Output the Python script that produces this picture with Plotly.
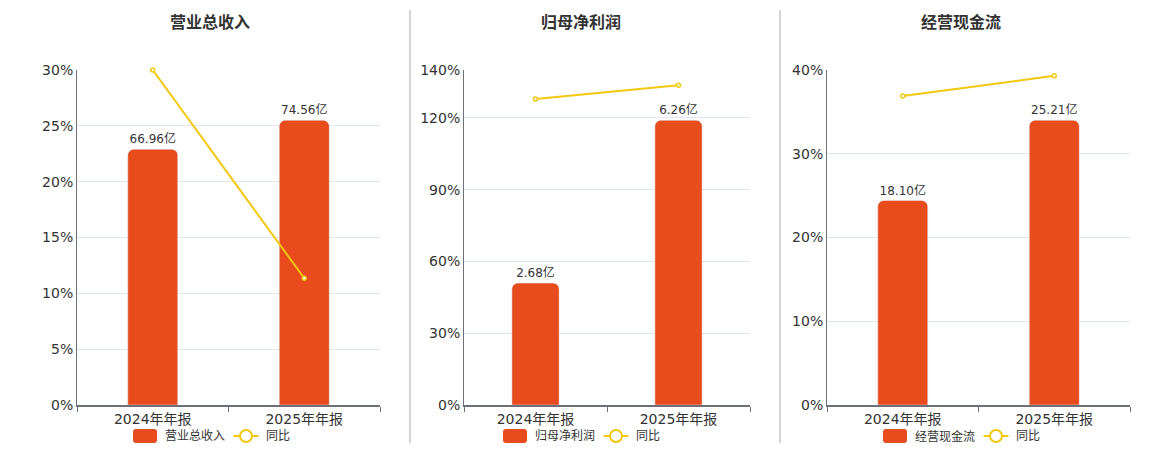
import plotly.graph_objects as go

years = ["2024年年报", "2025年年报"]

titles = ["营业总收入", "归母净利润", "经营现金流"]
revenue = [66.96, 74.56]
revenue_yoy = [30.0, 11.35]
profit = [2.68, 6.26]
profit_yoy = [127.9, 133.6]
cashflow = [18.10, 25.21]
cashflow_yoy = [36.9, 39.3]

bar_color = "#E84B1C"
line_color = "#F2C811"
axis_color = "#6E7079"
grid_color = "#E0E6F1"
text_color = "#333333"
font_family = "DejaVu Sans, Noto Sans CJK SC, sans-serif"

# the page puts the plot div 8px in from the top-left, so work in page pixels
W, H, OFF = 1152, 442, 8


def px_x(p):
    return (p - OFF) / W


def px_y(p):
    return 1 - (p - OFF) / H


panels = [
    (titles[0], revenue, revenue_yoy, [0, 30], [0, 5, 10, 15, 20, 25, 30]),
    (titles[1], profit, profit_yoy, [0, 140], [0, 30, 60, 90, 120, 140]),
    (titles[2], cashflow, cashflow_yoy, [0, 40], [0, 10, 20, 30, 40]),
]
x_px = [(77, 380), (464, 750), (827, 1130)]
title_px = [210, 581, 961]
legend_px = [133, 503, 883]
y_domain = [px_y(405), px_y(70)]

fig = go.Figure()
layout = {}

for i, (name, vals, yoy, pct_range, pct_ticks) in enumerate(panels):
    n = i + 1
    xa = "x" if n == 1 else f"x{n}"
    bar_ax = "y" if n == 1 else f"y{n}"
    line_ax = f"y{n + 3}"

    fig.add_trace(go.Bar(
        x=years, y=vals, name=name,
        marker=dict(color=bar_color),
        texttemplate="%{y:.2f}亿", textposition="outside",
        textfont=dict(size=12, color=text_color),
        cliponaxis=False, showlegend=False,
        xaxis=xa, yaxis=bar_ax,
    ))
    fig.add_trace(go.Scatter(
        x=years, y=yoy, name="同比", mode="lines+markers",
        line=dict(color=line_color, width=2),
        marker=dict(symbol="circle", size=4, color="white",
                    line=dict(color=line_color, width=1.5)),
        cliponaxis=False, showlegend=False,
        xaxis=xa, yaxis=line_ax,
    ))

    layout[f"xaxis{'' if n == 1 else n}"] = dict(
        domain=[px_x(x_px[i][0]), px_x(x_px[i][1])], anchor=bar_ax,
        showline=True, linecolor=axis_color, linewidth=2,
        ticks="outside", tickson="boundaries", ticklen=5, tickcolor=axis_color,
        tickfont=dict(size=14, color=text_color), showgrid=False,
    )
    layout[f"yaxis{'' if n == 1 else n}"] = dict(
        domain=y_domain, anchor=xa,
        range=[0, max(vals) / 0.85], visible=False,
    )
    layout[f"yaxis{n + 3}"] = dict(
        domain=y_domain, anchor=xa, overlaying=bar_ax, side="left",
        range=pct_range, tickvals=pct_ticks,
        ticktext=[f"{v}%" for v in pct_ticks],
        showline=True, linecolor=axis_color, linewidth=1,
        showgrid=True, gridcolor=grid_color, zeroline=False,
        tickfont=dict(size=14, color=text_color),
    )

fig.update_layout(**layout)

# titles
for i, t in enumerate(titles):
    fig.add_annotation(
        text=f"<b>{t}</b>", x=px_x(title_px[i]), y=px_y(22),
        xref="paper", yref="paper", showarrow=False,
        xanchor="center", yanchor="middle",
        font=dict(size=16, color=text_color),
    )

# legends drawn by hand: rounded swatch + name, line with hollow circle + 同比
swatch = ("M -9,-7 L 9,-7 Q 12,-7 12,-4 L 12,4 Q 12,7 9,7 L -9,7 "
          "Q -12,7 -12,4 L -12,-4 Q -12,-7 -9,-7 Z")
for i, t in enumerate(titles):
    lx = legend_px[i]
    ly = px_y(436)
    fig.add_shape(type="path", path=swatch, xref="paper", yref="paper",
                  xsizemode="pixel", ysizemode="pixel",
                  xanchor=px_x(lx + 12), yanchor=ly,
                  fillcolor=bar_color, line=dict(width=0))
    fig.add_annotation(text=t, x=px_x(lx + 30), y=ly, xref="paper", yref="paper",
                       showarrow=False, xanchor="left", yanchor="middle",
                       font=dict(size=12, color=text_color))
    fig.add_shape(type="line", xref="paper", yref="paper",
                  x0=px_x(lx + 100.5), x1=px_x(lx + 125.5), y0=ly, y1=ly,
                  line=dict(color=line_color, width=2))
    fig.add_shape(type="circle", xref="paper", yref="paper",
                  xsizemode="pixel", ysizemode="pixel",
                  xanchor=px_x(lx + 113), yanchor=ly,
                  x0=-6, x1=6, y0=-6, y1=6,
                  fillcolor="white", line=dict(color=line_color, width=2))
    fig.add_annotation(text="同比", x=px_x(lx + 130.5), y=ly, xref="paper", yref="paper",
                       showarrow=False, xanchor="left", yanchor="middle",
                       font=dict(size=12, color=text_color))

for xp in [410, 780]:
    fig.add_shape(type="line", xref="paper", yref="paper",
                  x0=px_x(xp), x1=px_x(xp), y0=px_y(10), y1=px_y(443),
                  line=dict(color="#AAAAAA", width=1))

fig.update_layout(
    width=W, height=H,
    margin=dict(l=0, r=0, t=0, b=0, autoexpand=False),
    paper_bgcolor="white", plot_bgcolor="white",
    font=dict(family=font_family, color=text_color),
    bargap=0.67, barcornerradius=6,
    showlegend=False,
)

fig.write_html("out.html")
